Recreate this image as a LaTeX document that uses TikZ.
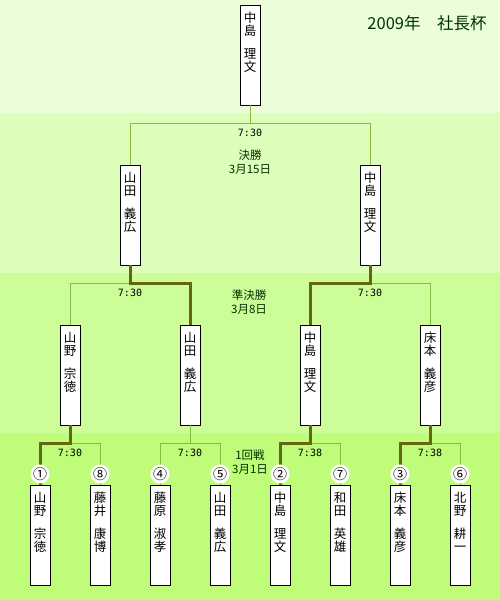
\documentclass[tikz,border=0pt]{standalone}
\usepackage{fontspec}
\setmainfont{Noto Sans CJK JP}
\newfontfamily\clockfont{DejaVu Sans Mono}
\usetikzlibrary{positioning,calc}
\definecolor{bandA}{HTML}{EBFED9}
\definecolor{bandB}{HTML}{DDFDBB}
\definecolor{bandC}{HTML}{CDFD99}
\definecolor{bandD}{HTML}{BEFC79}
\definecolor{winolive}{HTML}{666611}
\definecolor{losegreen}{HTML}{88BB44}
\definecolor{darkgreen}{HTML}{003300}
\tikzset{
  namebox/.style={draw=black,fill=white,line width=0.8pt,
                  minimum width=20pt,minimum height=100pt,inner sep=0pt},
  nametext/.style={anchor=north,align=center,inner sep=0pt,yshift=-7pt,
                   font=\fontsize{12.5}{13.5}\selectfont},
  seed/.style={circle,fill=white,inner sep=0pt,minimum size=12pt,
               font=\fontsize{14}{14}\selectfont},
  winline/.style={draw=winolive,line width=3pt},
  loseline/.style={draw=losegreen,line width=1pt},
  clocklabel/.style={font=\clockfont\fontsize{10}{10}\selectfont,inner sep=0pt},
  roundlabel/.style={text=darkgreen,align=center,inner sep=0pt,
                     font=\fontsize{11.5}{14}\selectfont},
  titlelabel/.style={text=darkgreen,inner sep=0pt,font=\fontsize{16.5}{16.5}\selectfont}
}
\newcommand{\player}[4]{%
  \node[namebox] (#1) at (#2,#3) {};
  \node[nametext] (#1t) at (#1.north) {#4};}

\begin{document}
\begin{tikzpicture}[x=1pt,y=-1pt]
  % background bands
  \fill[bandA] (0,0) rectangle (500,113);
  \fill[bandB] (0,113) rectangle (500,273);
  \fill[bandC] (0,273) rectangle (500,433);
  \fill[bandD] (0,433) rectangle (500,600);
  \useasboundingbox (0,0) rectangle (500,600);

  \node[titlelabel] (title) at (427,23) {2009年　社長杯};

  % boxes
  \player{champ}{250}{55}{中\\島\\[9pt]理\\文}
  \player{f1}{130}{215}{山\\田\\[9pt]義\\広}
  \player{f2}{370}{215}{中\\島\\[9pt]理\\文}
  \player{s1}{70}{375}{山\\野\\[9pt]宗\\徳}
  \player{s2}{190}{375}{山\\田\\[9pt]義\\広}
  \player{s3}{310}{375}{中\\島\\[9pt]理\\文}
  \player{s4}{430}{375}{床\\本\\[9pt]義\\彦}
  \player{p1}{40}{535}{山\\野\\[9pt]宗\\徳}
  \player{p8}{100}{535}{藤\\井\\[9pt]康\\博}
  \player{p4}{160}{535}{藤\\原\\[9pt]淑\\孝}
  \player{p5}{220}{535}{山\\田\\[9pt]義\\広}
  \player{p2}{280}{535}{中\\島\\[9pt]理\\文}
  \player{p7}{340}{535}{和\\田\\[9pt]英\\雄}
  \player{p3}{400}{535}{床\\本\\[9pt]義\\彦}
  \player{p6}{460}{535}{北\\野\\[9pt]耕\\一}

  % first round
  \coordinate (m1) at (70,443);
  \coordinate (m2) at (190,443);
  \coordinate (m3) at (310,443);
  \coordinate (m4) at (430,443);
  \draw[loseline] (p8.north) |- (m1);
  \draw[winline] (p1.north) |- (m1) -- (s1.south);
  \draw[loseline] (p4.north) |- (m2) -- (s2.south);
  \draw[loseline] (p5.north) |- (m2);
  \draw[loseline] (p7.north) |- (m3);
  \draw[winline] (p2.north) |- (m3) -- (s3.south);
  \draw[loseline] (p6.north) |- (m4);
  \draw[winline] (p3.north) |- (m4) -- (s4.south);

  % semi final
  \coordinate (n1) at (130,283);
  \coordinate (n2) at (370,283);
  \draw[loseline] (s1.north) |- (n1);
  \draw[winline] (s2.north) |- (n1) -- (f1.south);
  \draw[loseline] (s4.north) |- (n2);
  \draw[winline] (s3.north) |- (n2) -- (f2.south);

  % final
  \coordinate (k1) at (250,123);
  \draw[loseline] (f1.north) |- (k1) -- (champ.south);
  \draw[loseline] (f2.north) |- (k1);

  % seeds
  \node[seed] (c1) at (40,474) {①};
  \node[seed] (c8) at (100,474) {⑧};
  \node[seed] (c4) at (160,474) {④};
  \node[seed] (c5) at (220,474) {⑤};
  \node[seed] (c2) at (280,474) {②};
  \node[seed] (c7) at (340,474) {⑦};
  \node[seed] (c3) at (400,474) {③};
  \node[seed] (c6) at (460,474) {⑥};

  % start times
  \node[clocklabel] (t1) at (70,453) {7:30};
  \node[clocklabel] (t2) at (190,453) {7:30};
  \node[clocklabel] (t3) at (310,453) {7:38};
  \node[clocklabel] (t4) at (430,453) {7:38};
  \node[clocklabel] (u1) at (130,293) {7:30};
  \node[clocklabel] (u2) at (370,293) {7:30};
  \node[clocklabel] (v1) at (250,133) {7:30};

  % rounds
  \node[roundlabel] (final) at (250,162) {決勝\\3月15日};
  \node[roundlabel] (semi) at (249,302) {準決勝\\3月8日};
  \node[roundlabel] (first) at (250,462) {1回戦\\3月1日};
\end{tikzpicture}
\end{document}
